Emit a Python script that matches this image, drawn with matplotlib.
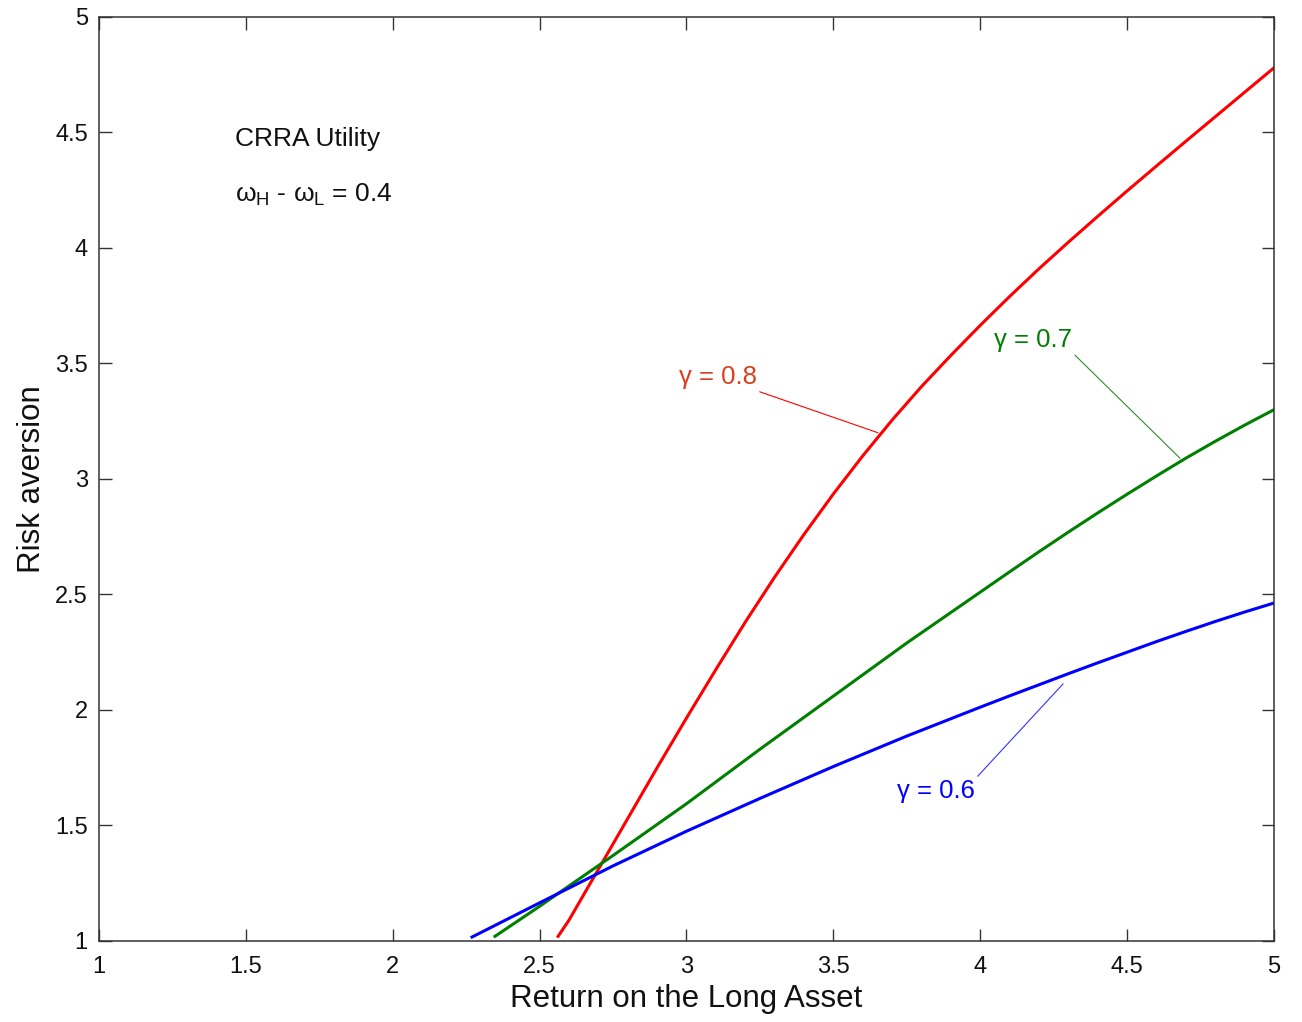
import matplotlib
matplotlib.use("Agg")
import matplotlib.pyplot as plt

# ---- data ----
x_g08 = [2.563, 2.6, 2.7, 2.8, 2.9, 3.0, 3.1, 3.2, 3.3, 3.4, 3.5, 3.6, 3.7, 3.8, 3.9,
         4.0, 4.1, 4.2, 4.3, 4.4, 4.5, 4.6, 4.7, 4.8, 4.9, 5.0]
y_g08 = [1.02, 1.09, 1.31, 1.53, 1.75, 1.965, 2.175, 2.38, 2.575, 2.76, 2.935, 3.10, 3.255, 3.40, 3.535,
         3.665, 3.79, 3.91, 4.025, 4.137, 4.247, 4.355, 4.462, 4.568, 4.674, 4.78]

x_g07 = [2.348, 2.5, 2.75, 3.0, 3.25, 3.5, 3.75, 4.0, 4.1, 4.2, 4.3, 4.4, 4.5, 4.6, 4.7, 4.8, 4.9, 5.0]
y_g07 = [1.02, 1.15, 1.37, 1.594, 1.83, 2.06, 2.29, 2.51, 2.598, 2.685, 2.77, 2.853, 2.934, 3.013,
         3.09, 3.163, 3.233, 3.30]

x_g06 = [2.27, 2.5, 2.75, 3.0, 3.25, 3.5, 3.75, 4.0, 4.1, 4.2, 4.3, 4.4, 4.5, 4.6, 4.7, 4.8, 4.9, 5.0]
y_g06 = [1.017, 1.165, 1.325, 1.475, 1.617, 1.755, 1.887, 2.012, 2.061, 2.109, 2.157, 2.204,
         2.25, 2.296, 2.34, 2.383, 2.424, 2.463]

x_ticks = [1, 1.5, 2, 2.5, 3, 3.5, 4, 4.5, 5]
y_ticks = [1, 1.5, 2, 2.5, 3, 3.5, 4, 4.5, 5]
x_ticklabels = ["1", "1.5", "2", "2.5", "3", "3.5", "4", "4.5", "5"]
y_ticklabels = ["1", "1.5", "2", "2.5", "3", "3.5", "4", "4.5", "5"]

plt.rcParams['font.family'] = ['Liberation Sans', 'DejaVu Sans']
plt.rcParams['mathtext.fontset'] = 'custom'
plt.rcParams['mathtext.rm'] = 'Liberation Sans'
plt.rcParams['mathtext.it'] = 'Liberation Sans'

fig = plt.figure(figsize=(13.02, 10.22), dpi=100)
ax = fig.add_axes([0.076, 0.0793, 0.9025, 0.9041])

ax.plot(x_g08, y_g08, color='#ff0000', lw=2.2)
ax.plot(x_g07, y_g07, color='#008000', lw=2.2)
ax.plot(x_g06, y_g06, color='#0000ff', lw=2.2)

ax.set_xlim(1, 5)
ax.set_ylim(1, 5)
ax.set_xticks(x_ticks)
ax.set_xticklabels(x_ticklabels)
ax.set_yticks(y_ticks)
ax.set_yticklabels(y_ticklabels)
ax.tick_params(direction='in', length=9, width=1.0, color='#333333',
               top=True, right=True, labelsize=17, labelcolor='#111111')
ax.tick_params(axis='x', pad=11)
ax.tick_params(axis='y', pad=8)
for s in ax.spines.values():
    s.set_color('#333333')
    s.set_linewidth(1.1)

ax.set_xlabel('Return on the Long Asset', fontsize=22.5, color='#111111', labelpad=4)
ax.set_ylabel('Risk aversion', fontsize=22.5, color='#111111', labelpad=6)

ax.text(1.463, 4.47, 'CRRA Utility', fontsize=19, va='center', ha='left', color='#111111')
ax.text(1.463, 4.23, r'$\omega_{\mathrm{H}}$ - $\omega_{\mathrm{L}}$ = 0.4', fontsize=19,
        va='center', ha='left', color='#111111')

# annotations
ax.annotate('γ = 0.8', xy=(3.652, 3.20), xytext=(3.24, 3.44), fontsize=18.5,
            color='#d9401c', ha='right', va='center',
            arrowprops=dict(arrowstyle='-', color='#ff0000', lw=0.8,
                            shrinkA=0, shrinkB=0))
ax.annotate('γ = 0.7', xy=(4.68, 3.09), xytext=(4.18, 3.60), fontsize=18.5,
            color='#008000', ha='center', va='center',
            arrowprops=dict(arrowstyle='-', color='#2e8b2e', lw=0.8,
                            shrinkA=0, shrinkB=0,
                            relpos=(1.0, 0.0)))
ax.annotate('γ = 0.6', xy=(4.282, 2.113), xytext=(3.85, 1.649), fontsize=18.5,
            color='#0000ff', ha='center', va='center',
            arrowprops=dict(arrowstyle='-', color='#3333ff', lw=0.8,
                            shrinkA=0, shrinkB=0,
                            relpos=(1.0, 1.0)))

fig.savefig('out.png', dpi=100, facecolor='white')
